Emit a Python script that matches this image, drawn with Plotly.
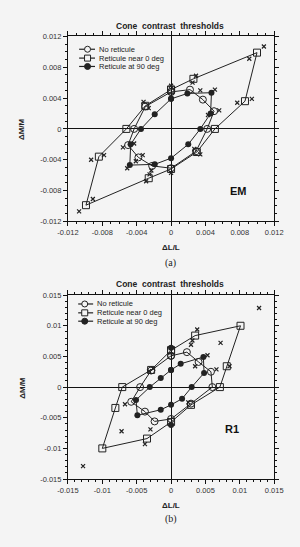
import plotly.graph_objects as go

# ---------------- Panel (a) : EM ----------------
em_sq_L = [0, 0.0026, 0.0100, 0.0086, 0.0051, 0.0030, 0, -0.0026, -0.0099, -0.0084, -0.0052, -0.0030, 0]
em_sq_M = [0.0051, 0.0065, 0.0099, 0.0036, 0, -0.0030, -0.0052, -0.0064, -0.0099, -0.0036, 0, 0.0030, 0.0051]
em_op_L = [0, 0.0022, 0.0037, 0.0050, 0.0042, 0.0029, 0, -0.0022, -0.0038, -0.0050, -0.0043, -0.0030, 0]
em_op_M = [0.0048, 0.0051, 0.0038, 0.0023, 0, -0.0029, -0.0051, -0.0048, -0.0037, -0.0021, 0, 0.0029, 0.0048]
em_fi_L = [0, 0.0019, 0.0047, 0.0046, 0.0034, 0.0020, 0, -0.0019, -0.0048, -0.0047, -0.0035, -0.0019, 0]
em_fi_M = [0.0039, 0.0046, 0.0047, 0.0020, 0, -0.0020, -0.0038, -0.0046, -0.0047, -0.0020, 0, 0.0019, 0.0039]
em_x_L = [0.0108, 0.0091, 0.0094, 0.0077, 0.0029, 0.0025, 0, 0.0051, 0.0034, 0.0056, 0.0043,
          -0.0032, -0.0026, -0.0093, -0.0078, -0.0091, -0.0107, -0.0029, -0.0025, -0.0056,
          -0.0043, -0.0033, -0.0041, -0.0051, -0.0023, 0, 0.0034, 0.0027]
em_x_M = [0.0107, 0.0091, 0.0039, 0.0034, 0.0069, 0.0060, 0.0056, 0.0051, 0.0050, 0.0024, 0.0018,
          0.0035, 0.0027, -0.0040, -0.0034, -0.0091, -0.0107, -0.0068, -0.0059, -0.0024,
          -0.0019, -0.0034, -0.0042, -0.0051, -0.0054, -0.0057, -0.0033, -0.0026]

# ---------------- Panel (b) : R1 ----------------
r1_sq_L = [0, 0.0035, 0.0101, 0.0081, 0.0071, 0.0029, 0, -0.0035, -0.0100, -0.0081, -0.0071, -0.0029, 0]
r1_sq_M = [0.0060, 0.0084, 0.0100, 0.0034, 0, -0.0029, -0.0057, -0.0084, -0.0100, -0.0034, 0, 0.0028, 0.0060]
r1_op_L = [0, 0.0023, 0.0040, 0.0058, 0.0060, 0.0029, 0, -0.0024, -0.0038, -0.0058, -0.0045, -0.0029, 0]
r1_op_M = [0.0051, 0.0057, 0.0041, 0.0025, 0, -0.0027, -0.0052, -0.0056, -0.0040, -0.0024, 0, 0.0027, 0.0051]
r1_fi_L = [0, 0.0014, 0.0047, 0.0048, 0.0030, 0.0016, 0, -0.0015, -0.0049, -0.0051, -0.0031, -0.0015, 0]
r1_fi_M = [0.0028, 0.0038, 0.0049, 0.0023, 0, -0.0019, -0.0029, -0.0037, -0.0046, -0.0021, 0, 0.0015, 0.0028]
r1_fx_L = [0, 0]
r1_fx_M = [0.0064, -0.0062]
r1_x_L = [0.0128, 0.0038, 0.0031, 0.0029, 0.0072, 0.0066, 0.0053, 0.0035, 0.0085,
          -0.0128, -0.0072, -0.0038, -0.0030, -0.0067, -0.0026, 0.0025, -0.0032]
r1_x_M = [0.0129, 0.0094, 0.0076, 0.0069, 0.0072, 0.0029, 0.0052, 0.0034, 0.0034,
          -0.0129, -0.0072, -0.0093, -0.0069, -0.0028, 0.0030, -0.0025, 0.0026]

em_ticks = [-0.012, -0.008, -0.004, 0, 0.004, 0.008, 0.012]
em_labels = ["-0.012", "-0.008", "-0.004", "0", "0.004", "0.008", "0.012"]
r1_ticks = [-0.015, -0.01, -0.005, 0, 0.005, 0.01, 0.015]
r1_labels = ["-0.015", "-0.01", "-0.005", "0", "0.005", "0.01", "0.015"]

series_names = ["No reticule", "Reticule near 0 deg", "Reticule at 90 deg"]

LC = "#222222"
W, H = 300, 547
fig = go.Figure()


def add_panel(xa, ya, op, sq, fi, xs, extra=None):
    fig.add_trace(go.Scatter(x=op[0], y=op[1], mode="lines+markers", name=series_names[0],
                             xaxis=xa, yaxis=ya, showlegend=False,
                             line=dict(color=LC, width=1),
                             marker=dict(symbol="circle-open", size=7, color=LC, line=dict(width=1))))
    fig.add_trace(go.Scatter(x=sq[0], y=sq[1], mode="lines+markers", name=series_names[1],
                             xaxis=xa, yaxis=ya, showlegend=False,
                             line=dict(color=LC, width=1),
                             marker=dict(symbol="square-open", size=7, color=LC, line=dict(width=1))))
    fig.add_trace(go.Scatter(x=fi[0], y=fi[1], mode="lines+markers", name=series_names[2],
                             xaxis=xa, yaxis=ya, showlegend=False,
                             line=dict(color=LC, width=1),
                             marker=dict(symbol="circle", size=6, color=LC)))
    if extra is not None:
        fig.add_trace(go.Scatter(x=extra[0], y=extra[1], mode="markers", showlegend=False,
                                 xaxis=xa, yaxis=ya,
                                 marker=dict(symbol="circle", size=6, color=LC)))
    fig.add_trace(go.Scatter(x=xs[0], y=xs[1], mode="markers", showlegend=False,
                             xaxis=xa, yaxis=ya,
                             marker=dict(symbol="x-thin-open", size=4, color=LC,
                                         line=dict(width=1.2, color=LC))))


add_panel("x", "y", (em_op_L, em_op_M), (em_sq_L, em_sq_M), (em_fi_L, em_fi_M),
          (em_x_L, em_x_M))
add_panel("x2", "y2", (r1_op_L, r1_op_M), (r1_sq_L, r1_sq_M), (r1_fi_L, r1_fi_M),
          (r1_x_L, r1_x_M), extra=(r1_fx_L, r1_fx_M))

xdom = [61 / W, 282 / W]
ydom_a = [1 - 221 / H, 1 - 33 / H]
ydom_b = [1 - 483 / H, 1 - 296 / H]

tickfont = dict(family="Liberation Sans, Arial", size=7.5, color="#333")
SANS = "Liberation Sans, Arial"


def axis(dom, rng, tv, tt, dtick_minor, anchor):
    return dict(domain=dom, range=rng, tickvals=tv, ticktext=tt, tickfont=tickfont,
                showgrid=False, zeroline=True, zerolinecolor="#111", zerolinewidth=1,
                showline=True, linecolor="#111", linewidth=1, mirror="allticks",
                ticks="outside", ticklen=4, tickcolor="#111", tickwidth=1,
                minor=dict(dtick=dtick_minor, ticks="outside", ticklen=2, tickcolor="#111"),
                anchor=anchor)


annotations = []
shapes = []


def txt(text, px, py, size=8, family=SANS, angle=0, xanchor="center"):
    annotations.append(dict(text=text, xref="paper", yref="paper", x=px / W, y=1 - py / H,
                            xanchor=xanchor, yanchor="middle", showarrow=False, textangle=angle,
                            font=dict(family=family, size=size, color="#222")))


for t_y, ax_y, lab_y, m_y, pan in [(22, 248, 263, 127, "(a)"), (285, 510, 524, 390, "(b)")]:
    txt("<b>Cone  contrast  thresholds</b>", 170, t_y, size=8.5)
    txt("<b>ΔL/L</b>", 171, ax_y, size=8)
    txt(pan, 171, lab_y, size=10, family="Liberation Serif, Times New Roman")
    txt("<b>ΔM/M</b>", 12, m_y, size=8, angle=-90)

annotations.append(dict(text="<b>EM</b>", xref="x", yref="y", x=0.0078, y=-0.0081, showarrow=False,
                        font=dict(family=SANS, size=11, color="#111")))
annotations.append(dict(text="<b>R1</b>", xref="x2", yref="y2", x=0.0089, y=-0.0068, showarrow=False,
                        font=dict(family=SANS, size=11, color="#111")))

# manual legends (compact rows)
for rows_y, x0, x1, xm, xt in [((46, 55, 63.5), 73, 90, 82, 92), ((305, 314, 322.5), 72, 88, 79, 90)]:
    for i, (name, sym) in enumerate(zip(series_names, ["open", "square", "filled"])):
        py = rows_y[i]
        yy = 1 - py / H
        shapes.append(dict(type="line", xref="paper", yref="paper", x0=x0 / W, x1=x1 / W,
                           y0=yy, y1=yy, line=dict(color=LC, width=1.2)))
        common = dict(xref="paper", yref="paper", xsizemode="pixel", ysizemode="pixel",
                      xanchor=xm / W, yanchor=yy)
        if sym == "open":
            shapes.append(dict(type="circle", x0=-3, x1=3, y0=-3, y1=3,
                               line=dict(color=LC, width=1), fillcolor="#f4f4f4", **common))
        elif sym == "square":
            shapes.append(dict(type="rect", x0=-3, x1=3, y0=-3, y1=3,
                               line=dict(color=LC, width=1), fillcolor="#f4f4f4", **common))
        else:
            shapes.append(dict(type="circle", x0=-3, x1=3, y0=-3, y1=3,
                               line=dict(color=LC, width=1), fillcolor=LC, **common))
        txt(name, xt, py, size=7.5, xanchor="left")

fig.update_layout(
    width=W, height=H,
    margin=dict(l=0, r=0, t=0, b=0),
    paper_bgcolor="#f4f4f4", plot_bgcolor="#f4f4f4",
    showlegend=False,
    xaxis=axis(xdom, [-0.012, 0.012], em_ticks, em_labels, 0.001, "y"),
    yaxis=axis(ydom_a, [-0.012, 0.012], em_ticks, em_labels, 0.001, "x"),
    xaxis2=axis(xdom, [-0.015, 0.015], r1_ticks, r1_labels, 0.001, "y2"),
    yaxis2=axis(ydom_b, [-0.015, 0.015], r1_ticks, r1_labels, 0.001, "x2"),
    annotations=annotations,
    shapes=shapes,
)

fig.write_html("out.html")
